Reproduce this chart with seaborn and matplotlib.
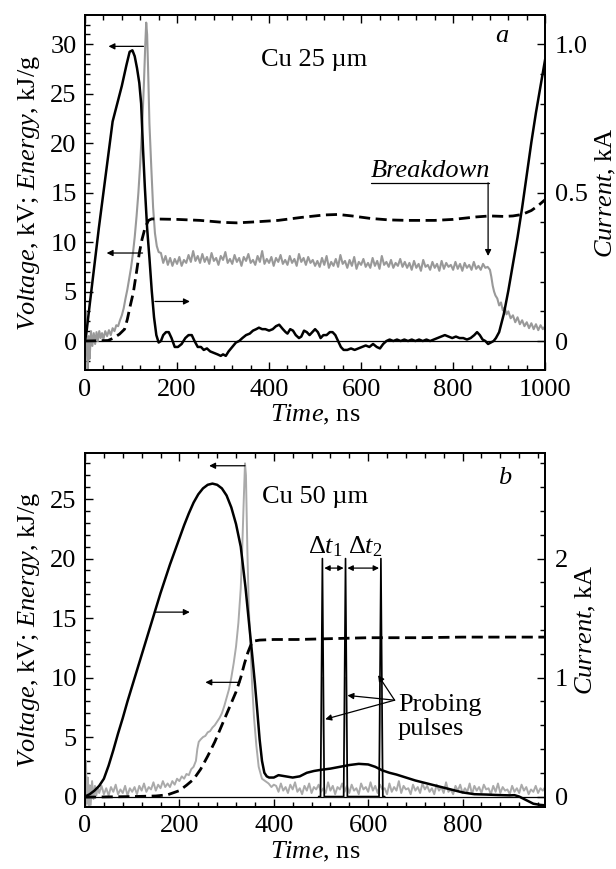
import numpy as np
import seaborn as sns
import matplotlib.pyplot as plt
from matplotlib.ticker import MultipleLocator, FuncFormatter

# ---------------- panel a: Cu 25 um ----------------
# voltage (gray, kV) - start and peak
a_volt_t1 = [0, 2, 4, 6, 8, 10, 13, 16, 19, 22, 25, 28, 31, 34, 37, 40, 44, 48, 52, 56,
             60, 64, 68, 72, 76, 80, 84, 88, 92, 96, 100, 104, 108, 112, 116, 120, 124, 128,
             131, 133, 135, 137, 140, 144, 148, 152, 156, 160]
a_volt_v1 = [2.5, 3.0, -1.0, -3.0, 0.5, -1.8, 1.0, -0.5, 0.8, -0.3, 0.9, 0.0, 1.0, 0.3, 0.8, 0.2,
             1.0, 0.5, 1.1, 0.6, 1.3, 1.0, 1.6, 1.5, 2.1, 2.6, 3.3, 4.3, 5.2, 6.3, 7.4, 8.8,
             10.5, 12.6, 15.0, 18.0, 21.5, 26.0, 30.0, 32.2, 31.0, 27.7, 22.0, 17.6, 13.5,
             10.9, 9.6, 9.0]
# plateau 165..875 ns every 5 ns
a_volt_plateau = [
    8.9, 7.9, 8.6, 7.7, 8.4, 7.6, 8.3, 7.8, 8.5, 7.6, 8.2, 7.9, 8.7, 8.0, 9.1, 8.1, 8.6, 7.9,
    8.8, 8.0, 8.5, 7.8, 8.9, 8.1, 8.4, 7.7, 8.6, 8.2, 9.0, 7.9, 8.3, 7.8, 8.7, 8.0, 8.4, 7.6,
    8.5, 8.1, 8.8, 7.9, 8.2, 7.7, 8.6, 8.0, 9.1, 7.8, 8.3, 7.9, 8.5, 7.6, 8.4, 8.0, 8.7, 7.8,
    8.2, 7.7, 8.6, 7.9, 8.3, 7.6, 8.8, 8.0, 8.4, 7.7, 8.5, 7.9, 8.2, 7.6,
    8.1, 7.5, 8.4, 7.7, 8.6, 7.4, 8.0, 7.6, 8.3, 7.5, 8.7, 7.8, 8.1, 7.4, 8.2, 7.6, 8.5, 7.3,
    8.0, 7.7, 8.3, 7.5, 7.9, 7.4, 8.4, 7.6, 8.1, 7.3, 8.6, 7.7, 8.0, 7.5, 8.2, 7.4, 7.9, 7.6,
    8.3, 7.5, 8.0, 7.4,
    7.9, 7.2, 8.1, 7.4, 7.8, 7.1, 8.2, 7.5, 7.7, 7.2, 8.0, 7.4, 7.8, 7.1, 8.1, 7.3, 7.9, 7.5,
    7.7, 7.2, 8.0, 7.3, 7.8, 7.1, 7.9, 7.4, 7.7, 7.2, 8.0, 7.3, 7.6, 7.2, 7.8, 7.4, 7.5]
a_volt_t3 = [880, 883, 886, 889, 892, 896, 900, 904, 908, 912, 916, 920, 925, 930, 935, 940,
             945, 950, 955, 960, 965, 970, 975, 980, 985, 990, 995, 1000]
a_volt_v3 = [7.2, 6.5, 5.6, 5.0, 4.6, 4.3, 3.6, 3.9, 3.1, 3.4, 2.7, 3.0, 2.3, 2.6, 1.9, 2.4,
             1.7, 2.1, 1.5, 1.9, 1.3, 1.8, 1.2, 1.7, 1.1, 1.6, 1.2, 1.5]

# current (black, kA)
a_curr_t = [0, 4, 10, 20, 30, 40, 50, 60, 70, 80, 90, 97, 103, 108, 113, 118, 122, 126, 130,
            135, 140, 145, 150, 155, 160, 165, 170, 176, 182, 188, 195, 202, 210, 218, 225,
            232, 238, 245, 252, 258, 265, 272, 280, 288, 295, 300, 306, 312, 320, 328, 335,
            342, 350, 358, 365, 372, 378, 385, 392, 400, 408, 415, 422, 430, 436, 440, 446,
            452, 458, 465, 470, 476, 482, 488, 494, 500, 506, 512, 518, 525, 532, 538, 544,
            550, 556, 562, 570, 578, 586, 594, 602, 610, 618, 626, 634, 641, 648, 655, 662,
            670, 678, 686, 694, 702, 710, 718, 726, 734, 742, 750, 758, 766, 774, 782, 790,
            798, 806, 814, 822, 830, 838, 846, 852, 858, 864, 870, 876, 882, 888, 893, 900,
            910, 920, 930, 940, 950, 960, 970, 980, 990, 1000]
a_curr_i = [0.0, 0.04, 0.12, 0.25, 0.38, 0.50, 0.62, 0.74, 0.80, 0.86, 0.93, 0.975, 0.98, 0.96,
            0.92, 0.87, 0.80, 0.65, 0.52, 0.38, 0.28, 0.17, 0.08, 0.02, -0.005, 0.0, 0.02, 0.03,
            0.03, 0.01, -0.02, -0.02, -0.01, 0.01, 0.02, 0.02, 0.0, -0.02, -0.02, -0.03, -0.025,
            -0.035, -0.04, -0.045, -0.05, -0.045, -0.05, -0.035, -0.02, -0.005, 0.0, 0.01, 0.02,
            0.025, 0.035, 0.04, 0.045, 0.04, 0.04, 0.035, 0.04, 0.05, 0.055, 0.04, 0.03, 0.025,
            0.04, 0.035, 0.02, 0.01, 0.015, 0.035, 0.03, 0.02, 0.03, 0.04, 0.03, 0.01, 0.02,
            0.02, 0.03, 0.03, 0.02, 0.0, -0.02, -0.03, -0.03, -0.025, -0.03, -0.025, -0.02,
            -0.015, -0.02, -0.01, -0.02, -0.025, -0.01, 0.0, 0.005, 0.0, 0.005, 0.0, 0.005,
            0.0, 0.005, 0.0, 0.005, 0.0, 0.005, 0.0, 0.005, 0.01, 0.015, 0.02, 0.015, 0.01,
            0.015, 0.01, 0.01, 0.005, 0.01, 0.02, 0.03, 0.02, 0.005, 0.0, -0.01, -0.005, 0.0,
            0.01, 0.03, 0.09, 0.17, 0.26, 0.35, 0.45, 0.56, 0.67, 0.77, 0.86, 0.95]

# energy (dashed, kJ/g)
a_en_t = [0, 50, 62, 75, 86, 92, 98, 105, 112, 118, 124, 128, 131, 134, 138, 145, 200, 250,
          300, 330, 370, 420, 470, 520, 550, 580, 620, 660, 700, 760, 800, 850, 880, 910,
          930, 950, 970, 985, 1000]
a_en_v = [0.0, 0.05, 0.3, 0.7, 1.2, 2.2, 3.5, 4.9, 7.0, 8.9, 10.3, 11.0, 11.6, 11.8, 12.2,
          12.35, 12.3, 12.2, 12.0, 11.95, 12.05, 12.2, 12.5, 12.75, 12.8, 12.65, 12.4, 12.25,
          12.2, 12.2, 12.3, 12.55, 12.65, 12.6, 12.65, 12.8, 13.2, 13.7, 14.3]

# ---------------- panel b: Cu 50 um ----------------
b_volt_t1 = [0, 2, 4, 6, 8, 10, 12, 15, 18, 21, 24, 27]
b_volt_v1 = [0.0, 3.0, -0.6, 1.6, -0.9, 0.9, -0.7, 1.3, -0.2, 0.9, 0.1, 0.8]
# 30..170 ns every 5 ns
b_volt_low = [0.3, 0.9, 0.2, 0.7, 0.1, 0.8, 0.4, 1.0, 0.2, 0.6, 0.3, 0.9, 0.1, 0.7, 0.4,
              0.8, 0.2, 0.9, 0.5, 1.1, 0.4, 0.8, 0.6, 1.2, 0.5, 1.0, 0.7, 1.3, 0.8]
b_volt_t2 = [175, 180, 185, 190, 195, 200, 205, 210, 215, 220, 225, 230, 235, 238, 241, 245,
             250, 255, 260, 265, 270, 275, 280, 285, 290, 295, 300, 305, 310, 315, 320, 325,
             330, 333, 336, 339, 341, 344, 347, 351, 354, 358, 363, 368, 375, 382, 389, 395, 400]
b_volt_v2 = [1.1, 0.8, 1.3, 1.0, 1.5, 1.3, 1.7, 1.5, 1.9, 1.8, 2.3, 2.5, 3.0, 4.0, 4.6, 4.8,
             5.0, 5.1, 5.4, 5.5, 5.8, 6.0, 6.3, 6.6, 7.0, 7.6, 8.3, 9.0, 10.0, 11.2, 12.6, 14.6,
             17.5, 20.7, 24.5, 28.0, 27.0, 20.7, 16.0, 12.3, 9.5, 6.7, 4.3, 2.5, 1.5, 1.3, 1.1,
             0.8, 1.0]
# 405..980 ns every 5 ns
b_volt_tail = [
    0.9, 0.4, 1.1, 0.5, 0.8, 0.3, 1.0, 0.6, 1.2, 0.4, 0.7, 0.2, 0.9, 0.5, 1.1, 0.3, 0.8, 0.6, 1.0, 0.4,
    0.7, 0.3, 1.2, 0.5, 0.9, 0.2, 0.8, 0.6, 1.1, 0.4, 0.9, 0.3, 1.0, 0.5, 0.7, 0.2, 1.1, 0.6, 0.8, 0.4,
    1.2, 0.5, 0.9, 0.3, 1.0, 0.6, 0.7, 0.2, 1.1, 0.4, 0.8, 0.5, 1.3, 0.3, 0.9, 0.6, 0.7, 0.2, 1.0, 0.5,
    0.8, 0.3, 1.1, 0.6, 0.9, 0.4, 0.7, 0.2, 1.0, 0.5, 0.8, 0.3, 1.2, 0.4, 0.6, 0.2, 0.9, 0.5, 1.0, 0.3,
    0.7, 0.4, 1.1, 0.2, 0.9, 0.5, 0.8, 0.3, 1.0, 0.6, 0.7, 0.2, 0.9, 0.4, 1.1, 0.3, 0.8, 0.5, 0.6, 0.2,
    0.9, 0.4, 0.7, 0.3, 1.0, 0.5, 0.8, 0.2, 0.6, 0.4, 0.9, 0.3, 0.7, 0.5, 0.8, 0.4]

b_curr_t = [0, 10, 20, 30, 40, 50, 60, 70, 80, 90, 100, 110, 120, 130, 140, 150, 160, 170,
            180, 190, 200, 210, 220, 230, 240, 250, 260, 270, 280, 290, 300, 310, 320, 330,
            340, 345, 350, 355, 360, 365, 370, 375, 380, 385, 390, 400, 410, 425, 440, 455,
            470, 485, 500, 520, 540, 560, 580, 600, 615, 630, 645, 660, 680, 700, 725, 750,
            775, 800, 825, 850, 875, 900, 910, 920, 935, 950, 965, 980]
b_curr_i = [0.0, 0.02, 0.05, 0.09, 0.15, 0.26, 0.39, 0.53, 0.66, 0.80, 0.93, 1.06, 1.19, 1.32,
            1.45, 1.58, 1.71, 1.83, 1.95, 2.06, 2.17, 2.28, 2.38, 2.47, 2.54, 2.59, 2.62, 2.63,
            2.62, 2.59, 2.53, 2.43, 2.29, 2.10, 1.76, 1.56, 1.36, 1.16, 0.95, 0.72, 0.48, 0.30,
            0.20, 0.17, 0.16, 0.16, 0.18, 0.17, 0.16, 0.17, 0.20, 0.215, 0.225, 0.235, 0.25,
            0.265, 0.275, 0.27, 0.25, 0.22, 0.20, 0.185, 0.16, 0.135, 0.11, 0.085, 0.06, 0.035,
            0.02, 0.017, 0.013, 0.01, 0.012, 0.0, -0.03, -0.06, -0.07, -0.075]

b_en_t = [0, 100, 150, 175, 200, 215, 230, 245, 260, 275, 290, 305, 320, 330, 338, 345, 350,
          355, 370, 400, 450, 500, 550, 600, 700, 800, 900, 980]
b_en_v = [-0.05, 0.0, 0.05, 0.15, 0.5, 0.95, 1.45, 2.3, 3.4, 4.6, 6.0, 7.4, 8.8, 10.0, 11.2,
          12.1, 12.6, 13.05, 13.15, 13.2, 13.2, 13.25, 13.3, 13.35, 13.35, 13.4, 13.4, 13.4]

# probing pulses
probe_t = [495, 499, 503, 507, 548, 552, 556, 623, 627, 631, 635]
probe_i = [0.0, 0.0, 2.0, 0.0, 0.0, 2.0, 0.0, 0.0, 2.0, 0.0, 0.0]
probe_v = [0.0, 0.0, 10.0, 0.0, 0.0, 10.0, 0.0, 0.0, 10.0, 0.0, 0.0]

# ---------------- style ----------------
sns.set_style("ticks")
plt.rcParams['font.family'] = ['Liberation Serif', 'DejaVu Serif']
plt.rcParams['mathtext.fontset'] = 'custom'
plt.rcParams['mathtext.rm'] = 'Liberation Serif'
plt.rcParams['mathtext.it'] = 'Liberation Serif:italic'
plt.rcParams['axes.edgecolor'] = 'black'
plt.rcParams['xtick.color'] = 'black'
plt.rcParams['ytick.color'] = 'black'
plt.rcParams['text.color'] = 'black'
plt.rcParams['axes.labelcolor'] = 'black'

FS = 19
GRAY_A = '#999999'
GRAY_B = '#aaaaaa'
DASH = (0, (4, 2))
arrow = dict(arrowstyle='-|>', color='black', lw=0.9, mutation_scale=9, shrinkA=0, shrinkB=0)
arrow2 = dict(arrowstyle='<|-|>', color='black', lw=0.9, mutation_scale=8, shrinkA=0, shrinkB=0)

fig = plt.figure(figsize=(6.16, 8.69), dpi=100)
ax_a = fig.add_axes([0.138, 0.574, 0.747, 0.4085])
ax_b = fig.add_axes([0.138, 0.0717, 0.747, 0.4074])


def style_axes(ax, axr, xmax, ylim, scale, rmajor, rminor, rfmt):
    ax.set_xlim(0, xmax)
    ax.set_ylim(*ylim)
    axr.set_ylim(ylim[0] / scale, ylim[1] / scale)
    ax.xaxis.set_major_locator(MultipleLocator(200))
    ax.xaxis.set_minor_locator(MultipleLocator(40))
    ax.yaxis.set_major_locator(MultipleLocator(5))
    ax.yaxis.set_minor_locator(MultipleLocator(1))
    axr.yaxis.set_major_locator(MultipleLocator(rmajor))
    axr.yaxis.set_minor_locator(MultipleLocator(rminor))
    axr.yaxis.set_major_formatter(FuncFormatter(rfmt))
    ax.tick_params(which='both', direction='in', top=True, right=False, labelsize=FS, width=1)
    ax.tick_params(which='major', length=6, pad=6)
    ax.tick_params(which='minor', length=3.5)
    axr.tick_params(which='both', direction='in', right=True, left=False, labelsize=FS, width=1)
    axr.tick_params(which='major', length=6, pad=7)
    axr.tick_params(which='minor', length=3.5)
    for a in (ax, axr):
        for s in a.spines.values():
            s.set_linewidth(1.3)
    ax.set_xlabel(r'$\mathit{Time}$, ns', fontsize=FS, labelpad=2)
    ax.set_ylabel(r'$\mathit{Voltage}$, kV; $\mathit{Energy}$, kJ/g', fontsize=FS, labelpad=6)
    axr.set_ylabel(r'$\mathit{Current}$, kA', fontsize=FS, labelpad=4)
    ax.axhline(0, color='black', lw=0.9, zorder=1)


# ---- panel a ----
axr_a = ax_a.twinx()
a_volt_t = np.concatenate([a_volt_t1, np.arange(165, 880, 5), a_volt_t3])
a_volt_v = np.concatenate([a_volt_v1, a_volt_plateau, a_volt_v3])
sns.lineplot(x=a_volt_t, y=a_volt_v, ax=ax_a, color=GRAY_A, lw=1.5, estimator=None)
sns.lineplot(x=a_en_t, y=a_en_v, ax=ax_a, color='black', lw=2.0, linestyle=DASH, estimator=None)
sns.lineplot(x=a_curr_t, y=a_curr_i, ax=axr_a, color='black', lw=1.8, estimator=None)
style_axes(ax_a, axr_a, 1000, (-2.95, 32.95), 30, 0.5, 0.1,
           lambda v, _: '0' if abs(v) < 1e-9 else f'{v:.1f}')

ax_a.annotate('', xy=(51, 29.8), xytext=(127, 29.8), arrowprops=arrow)
ax_a.annotate('', xy=(47, 8.9), xytext=(125, 8.9), arrowprops=arrow)
ax_a.annotate('', xy=(228, 4.0), xytext=(152, 4.0), arrowprops=arrow)
ax_a.text(499, 28.4, 'Cu 25 µm', ha='center', va='center', fontsize=FS)
ax_a.text(906, 30.8, 'a', style='italic', ha='center', va='center', fontsize=FS)
ax_a.text(750, 17.2, 'Breakdown', style='italic', ha='center', va='center', fontsize=FS)
ax_a.plot([621, 877], [16.0, 16.0], color='black', lw=0.9)
ax_a.annotate('', xy=(876, 8.6), xytext=(876, 16.0), arrowprops=arrow)

# ---- panel b ----
axr_b = ax_b.twinx()
b_volt_t = np.concatenate([b_volt_t1, np.arange(30, 175, 5), b_volt_t2, np.arange(405, 985, 5)])
b_volt_v = np.concatenate([b_volt_v1, b_volt_low, b_volt_v2, b_volt_tail])
sns.lineplot(x=b_volt_t, y=b_volt_v, ax=ax_b, color=GRAY_B, lw=1.4, estimator=None)
sns.lineplot(x=b_en_t, y=b_en_v, ax=ax_b, color='black', lw=2.0, linestyle=DASH, estimator=None)
sns.lineplot(x=probe_t, y=probe_v, ax=ax_b, color=GRAY_B, lw=1.0, estimator=None)
sns.lineplot(x=b_curr_t, y=b_curr_i, ax=axr_b, color='black', lw=1.8, estimator=None)
sns.lineplot(x=probe_t, y=probe_i, ax=axr_b, color='black', lw=1.2, estimator=None)
style_axes(ax_b, axr_b, 975, (-0.85, 28.9), 10, 1, 0.2, lambda v, _: f'{v:.0f}')

ax_b.annotate('', xy=(263, 27.8), xytext=(339, 27.8), arrowprops=arrow)
ax_b.annotate('', xy=(255, 9.6), xytext=(328, 9.6), arrowprops=arrow)
ax_b.annotate('', xy=(222, 15.5), xytext=(147, 15.5), arrowprops=arrow)
ax_b.text(376, 25.2, 'Cu 50 µm', ha='left', va='center', fontsize=FS)
ax_b.text(889, 26.8, 'b', style='italic', ha='center', va='center', fontsize=FS)
ax_b.text(510, 21.0, r'Δ$\mathit{t}_1$', ha='center', va='center', fontsize=FS)
ax_b.text(593, 21.0, r'Δ$\mathit{t}_2$', ha='center', va='center', fontsize=FS)
ax_b.annotate('', xy=(507, 19.2), xytext=(548, 19.2), arrowprops=arrow2)
ax_b.annotate('', xy=(556, 19.2), xytext=(623, 19.2), arrowprops=arrow2)
ax_b.text(663, 7.7, 'Probing', ha='left', va='center', fontsize=FS)
ax_b.text(663, 5.7, 'pulses', ha='left', va='center', fontsize=FS)
for tip in [(509, 6.5), (556, 8.5), (621, 10.2)]:
    ax_b.annotate('', xy=tip, xytext=(656, 8.1), arrowprops=arrow)

fig.savefig('out.png', dpi=100)
